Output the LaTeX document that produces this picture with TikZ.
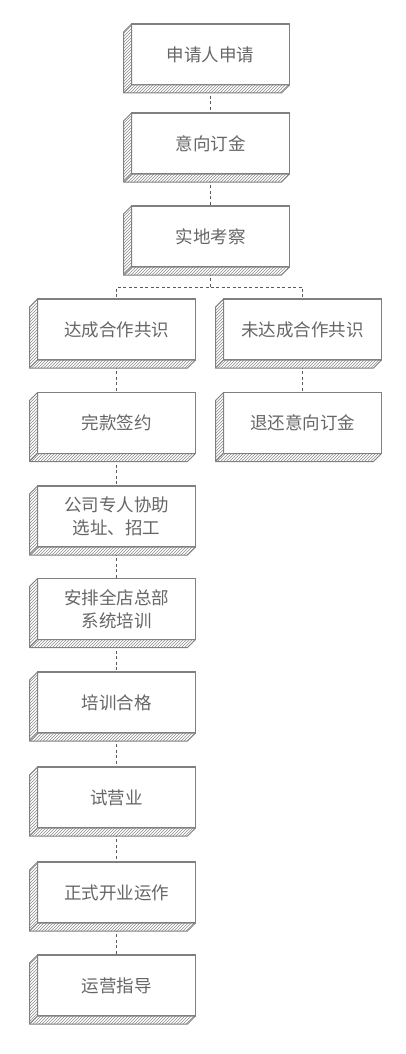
\documentclass[tikz,border=0pt]{standalone}
\usepackage{fontspec}
\setmainfont{Noto Sans CJK SC}
\usepackage{xcolor}
\definecolor{boxLine}{HTML}{808080}
\definecolor{hatchGray}{HTML}{8C8C8C}
\definecolor{linkGray}{HTML}{5A5A5A}
\definecolor{labelText}{HTML}{666666}
\usepackage{tikz}
\usetikzlibrary{
    patterns,
    calc,
    backgrounds
}
\tikzset{
    % Front face of every stage box
    stagebox/.style={
        rectangle,
        draw=boxLine,
        line width=1.2pt,
        fill=white,
        minimum width=158pt,
        minimum height=61pt,
        inner sep=0pt,
        outer sep=0pt,
        align=center,
        text=labelText,
        font=\fontsize{17.5}{23}\selectfont,
    },
    % Hatched side faces (left and bottom)
    stageface/.style={
        draw=boxLine,
        line width=1pt,
        line join=round,
        preaction={fill=white},
        pattern=north east lines,
        pattern color=hatchGray,
    },
    % Dashed connector between stages
    link/.style={
        draw=linkGray,
        line width=0.7pt,
        dash pattern=on 3pt off 2.5pt,
    },
}

\begin{document}
\begin{tikzpicture}[x=1pt, y=-1pt]
    \useasboundingbox (0,0) rectangle (406,1054);

    % main column
    \node (apply)   [stagebox] at (210.5,54.5)  {申请人申请};
    \node (deposit) [stagebox] at (210.5,143.5) {意向订金};
    \node (visit)   [stagebox] at (210.5,236.5) {实地考察};
    \coordinate (split) at (210.5,287);

    % agreement branch
    \node (agree)    [stagebox] at (116.5,329.5) {达成合作共识};
    \node (sign)     [stagebox] at (116.5,423)   {完款签约};
    \node (site)     [stagebox] at (116.5,516.5) {公司专人协助\\选址、招工};
    \node (training) [stagebox] at (116.5,609)   {安排全店总部\\系统培训};
    \node (passed)   [stagebox] at (116.5,702.5) {培训合格};
    \node (trial)    [stagebox] at (116.5,797.5) {试营业};
    \node (opening)  [stagebox] at (116.5,892.5) {正式开业运作};
    \node (guidance) [stagebox] at (116.5,985.5) {运营指导};

    % no agreement branch
    \node (disagree) [stagebox] at (302.5,329.5) {未达成合作共识};
    \node (refund)   [stagebox] at (302.5,423)   {退还意向订金};

    % hatched depth of every box
    \foreach \n in {apply,deposit,visit,agree,sign,site,training,passed,trial,opening,guidance,disagree,refund}{
        \filldraw[stageface] (\n.north west) -- ++(-8,8)
            -- ($(\n.south west)+(-8,8)$) -- ($(\n.south east)+(-8,8)$)
            -- (\n.south east) -- (\n.south west) -- cycle;
        \draw[stageface, pattern=none, preaction={}] (\n.south west) -- ++(-8,8);
    }

    \begin{scope}[on background layer]
        \draw[link] (apply) -- (deposit);
        \draw[link] (deposit) -- (visit);
        \draw[link] (visit) -- (split) -| (agree);
        \draw[link] (split) -| (disagree);
        \draw[link] (agree) -- (sign);
        \draw[link] (sign) -- (site);
        \draw[link] (site) -- (training);
        \draw[link] (training) -- (passed);
        \draw[link] (passed) -- (trial);
        \draw[link] (trial) -- (opening);
        \draw[link] (opening) -- (guidance);
        \draw[link] (disagree) -- (refund);
    \end{scope}
\end{tikzpicture}
\end{document}
